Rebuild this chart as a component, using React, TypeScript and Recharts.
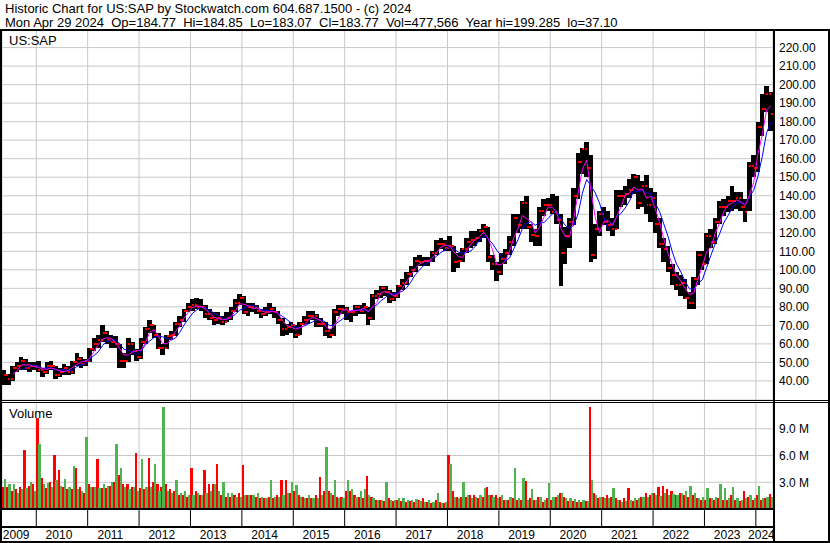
import React, { useMemo } from 'react';
import { ComposedChart, Bar, Line, XAxis, YAxis, CartesianGrid } from 'recharts';

// monthly bars, May 2009 .. Apr 2024
const START_MONTH = 4; // May (0-based)
const YEARS = ['2009', '2010', '2011', '2012', '2013', '2014', '2015', '2016', '2017', '2018', '2019', '2020', '2021', '2022', '2023', '2024'];

const HI = [
    46, 44, 48, 50, 53, 52, 50, 50,
    51, 47, 50, 51, 48, 47, 49, 48, 51, 55, 53, 52,
    58, 63, 65, 70, 67, 65, 64, 60, 55, 63, 61, 57,
    63, 69, 73, 70, 66, 60, 65, 67, 72, 75, 79, 82,
    84, 85, 84, 81, 79, 77, 77, 75, 77, 80, 84, 87,
    86, 82, 82, 81, 79, 80, 82, 80, 78, 74, 71, 72,
    70, 72, 75, 78, 78, 76, 74, 72, 68, 79, 81, 81,
    80, 78, 81, 81, 82, 80, 87, 89, 91, 91, 89, 88,
    92, 95, 99, 102, 107, 108, 107, 107, 110, 116, 117, 116,
    118, 113, 109, 112, 117, 121, 121, 122, 125, 123, 108, 104,
    109, 111, 118, 130, 130, 137, 140, 125, 122, 134, 138, 139,
    141, 140, 130, 123, 128, 144, 163, 166, 169, 162, 125, 132,
    134, 132, 128, 143, 143, 145, 149, 152, 151, 148, 151, 144,
    142, 128, 117, 113, 103, 99, 97, 95, 88, 96, 110, 110,
    120, 122, 128, 137, 138, 140, 145, 142, 142, 138, 158, 162,
    180, 195, 199, 196,
];

const LO = [
    38, 38, 40, 45, 46, 46, 45, 46,
    45, 42, 44, 46, 41, 42, 43, 43, 44, 48, 47, 48,
    50, 56, 58, 61, 60, 58, 58, 47, 47, 50, 54, 51,
    52, 60, 66, 63, 57, 54, 57, 62, 64, 69, 72, 77,
    78, 79, 78, 74, 73, 70, 71, 70, 72, 73, 77, 81,
    76, 75, 77, 76, 74, 75, 76, 74, 71, 64, 65, 66,
    63, 65, 70, 71, 73, 69, 69, 64, 63, 64, 75, 76,
    73, 72, 75, 76, 76, 70, 73, 84, 85, 86, 82, 83,
    85, 89, 92, 96, 99, 102, 102, 102, 104, 108, 111, 110,
    110, 99, 101, 104, 109, 112, 113, 115, 117, 104, 100, 94,
    97, 103, 108, 113, 120, 122, 122, 115, 113, 113, 129, 132,
    130, 125, 91, 103, 112, 124, 138, 152, 150, 104, 106, 118,
    124, 121, 118, 122, 134, 135, 139, 141, 133, 134, 130, 126,
    120, 112, 104, 99, 92, 89, 86, 84, 79, 79, 92, 100,
    103, 112, 114, 125, 129, 131, 132, 133, 132, 126, 132, 150,
    153, 172, 185, 175,
];

const CLOSE = [
    43, 41, 47, 48, 51, 47, 48, 48,
    46, 45, 48, 48, 43, 45, 47, 45, 50, 52, 49, 51,
    57, 60, 62, 66, 62, 61, 60, 51, 51, 60, 56, 53,
    61, 68, 70, 65, 58, 58, 64, 65, 71, 73, 78, 80,
    81, 80, 80, 76, 74, 73, 74, 72, 74, 78, 82, 85,
    77, 80, 80, 78, 76, 77, 79, 77, 73, 68, 69, 70,
    65, 71, 73, 75, 75, 71, 71, 67, 65, 77, 79, 79,
    77, 77, 80, 78, 80, 74, 86, 87, 90, 88, 84, 86,
    91, 93, 98, 100, 105, 104, 105, 105, 109, 114, 114, 112,
    113, 104, 105, 111, 115, 116, 117, 121, 123, 107, 103, 99,
    106, 109, 115, 128, 124, 136, 123, 119, 118, 132, 135, 135,
    131, 127, 109, 118, 126, 140, 158, 165, 155, 108, 122, 130,
    126, 124, 122, 140, 140, 141, 143, 150, 136, 145, 135, 139,
    125, 114, 111, 101, 97, 92, 93, 85, 82, 95, 108, 103,
    118, 115, 126, 134, 134, 137, 137, 139, 134, 131, 156, 155,
    177, 187, 195, 184,
];

// volume in millions, down-day and up-day bars per month
const VOL_DOWN = [
    2.5, 2.5, 2.0, 2.2, 2.5, 6.6, 2.6, 2.8,
    10.2, 3.5, 2.4, 3.0, 6.1, 4.4, 2.5, 2.2, 2.2, 4.6, 2.5, 1.8,
    2.8, 2.5, 5.6, 2.4, 2.4, 2.6, 3.0, 3.8, 2.8, 2.8, 2.5, 6.3,
    2.4, 2.2, 5.7, 3.0, 2.8, 2.5, 2.8, 2.2, 2.0, 1.6, 1.6, 1.4,
    4.6, 2.0, 1.6, 4.4, 2.8, 2.8, 5.0, 1.6, 1.4, 1.4, 1.6, 1.8,
    4.9, 1.6, 1.6, 1.4, 1.2, 1.2, 1.4, 1.2, 1.6, 3.3, 3.3, 1.8,
    2.0, 1.6, 1.4, 1.2, 1.2, 1.6, 3.6, 2.0, 2.0, 1.6, 1.4, 1.4,
    2.0, 2.0, 1.6, 1.4, 1.2, 3.7, 1.4, 1.0, 1.0, 0.9, 1.2, 0.9,
    1.0, 0.9, 0.8, 0.9, 0.8, 1.0, 1.2, 0.8, 0.7, 1.0, 0.8, 0.7,
    6.1, 2.0, 1.4, 1.4, 1.4, 1.6, 1.6, 1.2, 1.4, 2.5, 1.6, 1.6,
    1.4, 1.0, 1.0, 1.2, 1.0, 1.0, 3.1, 1.2, 1.0, 1.4, 0.8, 1.2,
    1.0, 1.4, 1.8, 1.4, 0.9, 0.9, 0.8, 0.8, 0.9, 11.4, 1.8, 1.2,
    1.4, 1.6, 1.4, 1.2, 1.0, 1.2, 2.4, 0.9, 1.0, 1.3, 1.8, 1.6,
    1.8, 2.5, 2.6, 2.2, 2.0, 1.6, 1.8, 1.6, 1.4, 1.6, 1.2, 1.0,
    1.0, 1.2, 1.0, 1.2, 1.0, 1.0, 1.6, 1.0, 0.9, 2.0, 1.4, 1.0,
    1.6, 1.0, 1.2, 1.7,
];

const VOL_UP = [
    3.4, 2.8, 2.8, 1.8, 2.2, 2.4, 3.0, 2.0,
    7.3, 2.8, 2.9, 2.5, 3.2, 2.6, 3.4, 2.5, 4.8, 2.2, 2.0, 8.1,
    2.5, 2.5, 2.4, 2.8, 2.6, 3.0, 7.3, 4.6, 2.5, 2.2, 2.5, 2.0,
    5.6, 2.5, 2.5, 5.1, 2.0, 11.4, 2.0, 1.8, 3.2, 1.8, 2.0, 1.6,
    1.6, 1.8, 1.6, 1.8, 2.0, 2.8, 2.0, 3.0, 1.8, 1.8, 1.4, 1.4,
    1.6, 1.6, 1.6, 1.8, 1.4, 1.2, 3.2, 1.4, 1.4, 1.6, 1.8, 3.0,
    2.7, 1.4, 1.2, 1.6, 1.2, 1.2, 1.6, 7.0, 1.8, 3.3, 1.2, 1.2,
    3.3, 2.2, 1.4, 2.0, 2.2, 1.6, 1.2, 1.0, 1.0, 3.0, 1.0, 1.0,
    1.2, 1.2, 1.0, 1.0, 1.1, 0.9, 0.8, 1.0, 0.8, 1.8, 0.7, 0.8,
    5.0, 1.4, 1.2, 3.0, 1.6, 1.2, 1.4, 1.6, 2.4, 1.6, 1.4, 1.2,
    1.6, 1.0, 1.4, 4.6, 1.2, 3.5, 1.0, 2.2, 1.0, 1.4, 1.0, 2.9,
    1.4, 1.6, 1.8, 1.2, 1.2, 1.1, 1.0, 1.0, 0.9, 3.2, 1.6, 1.4,
    1.2, 1.2, 2.3, 1.0, 0.8, 0.9, 1.0, 1.2, 1.2, 1.4, 1.4, 1.8,
    1.6, 1.5, 1.8, 1.6, 1.7, 1.6, 1.8, 2.0, 2.6, 1.8, 1.2, 1.4,
    2.3, 1.2, 1.4, 2.8, 2.4, 1.2, 2.5, 1.2, 1.0, 1.2, 1.6, 1.2,
    2.6, 1.2, 1.4, 1.4,
];

const PRICE_TICKS = [40, 50, 60, 70, 80, 90, 100, 110, 120, 130, 140, 150, 160, 170, 180, 190, 200, 210, 220];
const VOL_TICKS = [3, 6, 9];

const TITLE = 'Historic Chart for US:SAP by Stockwatch.com 604.687.1500 - (c) 2024';
const QUOTE = 'Mon Apr 29 2024  Op=184.77  Hi=184.85  Lo=183.07  Cl=183.77  Vol=477,566  Year hi=199.285  lo=37.10';

const N = HI.length;
const FIRST_JAN = 12 - START_MONTH;

const sma = (arr: number[], i: number, n: number) => {
    if (i < n - 1) return null;
    let s = 0;
    for (let k = i - n + 1; k <= i; k++) s += arr[k];
    return s / n;
};

// black high/low bar with red open & close marks
const PriceBar = (props: any) => {
    const { x, y, width, height, payload } = props;
    if (x == null || y == null || !height) return null;
    const top = Math.min(y, y + height);
    const h = Math.abs(height);
    const span = payload.hi - payload.lo || 1;
    const yc = top + ((payload.hi - payload.close) / span) * h;
    const open = payload.open;
    const yo = open != null && open <= payload.hi && open >= payload.lo ? top + ((payload.hi - open) / span) * h : null;
    return (
        <g shapeRendering="crispEdges">
            <rect x={x - 0.3} y={top} width={width + 0.6} height={h} fill="#000" />
            {yo != null && <rect x={x} y={yo - 1} width={width / 2} height={2} fill="#ff0000" />}
            <rect x={x + width / 2} y={yc - 1} width={width / 2} height={2} fill="#ff0000" />
        </g>
    );
};

const VolBar = (props: any) => {
    const { x, y, width, height, fill } = props;
    if (x == null || y == null || !height) return null;
    return <rect x={x} y={Math.min(y, y + height)} width={width + 0.3} height={Math.abs(height)} fill={fill} shapeRendering="crispEdges" />;
};

const App: React.FC = () => {
    const rows = useMemo(() => HI.map((h, i) => ({
        t: i + 0.5,
        range: [LO[i], h],
        hi: h,
        lo: LO[i],
        close: CLOSE[i],
        open: i > 0 ? CLOSE[i - 1] : null,
        fast: sma(CLOSE, i, 3),
        slow: sma(CLOSE, i, 5),
        dn: VOL_DOWN[i],
        up: VOL_UP[i],
    })), []);

    const yearStarts = YEARS.slice(1).map((_, k) => FIRST_JAN + 12 * k);
    const labelTicks = YEARS.map((_, k) => {
        const s = k === 0 ? 0 : FIRST_JAN + 12 * (k - 1);
        const e = Math.min(N, FIRST_JAN + 12 * k);
        return (s + e) / 2 - 0.7;
    });
    const yearOf = (v: number) => {
        const k = labelTicks.findIndex(t => Math.abs(t - v) < 0.01);
        return k >= 0 ? YEARS[k] : '';
    };

    const line = (style: React.CSSProperties) => <div style={{ position: 'absolute', background: '#000', ...style }} />;

    return (
        <div style={{ position: 'absolute', left: 0, top: 0, width: 830, height: 543, background: '#fff', overflow: 'hidden', fontFamily: '"Liberation Sans", Arial, sans-serif', color: '#000' }}>
            <div style={{ position: 'absolute', left: 5, top: 2, fontSize: 13, lineHeight: '14px', whiteSpace: 'pre' }}>
                {TITLE}<br />{QUOTE}
            </div>

            {/* price panel */}
            <div style={{ position: 'absolute', left: 0, top: 30 }}>
                <ComposedChart width={830} height={370} data={rows} margin={{ top: 0, right: 0, bottom: 0, left: 2 }} barCategoryGap={0} barGap={0}>
                    <CartesianGrid stroke="#c8c8c8" />
                    <XAxis dataKey="t" type="number" domain={[0, N]} ticks={yearStarts} interval={0} hide allowDataOverflow />
                    <YAxis orientation="right" width={57} domain={[29.7, 229.5]} ticks={PRICE_TICKS} interval={0} allowDataOverflow
                        axisLine={false} tickLine={false} tickSize={6} tickMargin={0}
                        tick={{ fill: '#000', fontSize: 12 }} tickFormatter={(v: number) => v.toFixed(2)} />
                    <Bar dataKey="range" shape={<PriceBar />} isAnimationActive={false} />
                    <Line dataKey="slow" stroke="#0000ff" strokeWidth={1} dot={false} isAnimationActive={false} />
                    <Line dataKey="fast" stroke="#ff00ff" strokeWidth={1} dot={false} isAnimationActive={false} />
                </ComposedChart>
            </div>

            {/* volume panel + year axis */}
            <div style={{ position: 'absolute', left: 0, top: 402 }}>
                <ComposedChart width={830} height={141} data={rows} margin={{ top: 0, right: 0, bottom: 0, left: 2 }} barCategoryGap={0} barGap={0}>
                    <CartesianGrid stroke="#c8c8c8" />
                    <XAxis dataKey="t" type="number" domain={[0, N]} ticks={yearStarts} interval={0} allowDataOverflow height={18}
                        tickFormatter={() => ''} tickSize={17} tickLine={{ stroke: '#000' }} axisLine={{ stroke: '#000', strokeWidth: 2 }} />
                    <XAxis xAxisId="lbl" dataKey="t" type="number" domain={[0, N]} ticks={labelTicks} interval={0} allowDataOverflow height={16}
                        tickLine={false} tickSize={0} tickMargin={3} axisLine={{ stroke: '#000', strokeWidth: 2 }}
                        tick={{ fill: '#000', fontSize: 12 }} tickFormatter={yearOf} />
                    <YAxis orientation="right" width={57} domain={[0, 12]} ticks={VOL_TICKS} interval={0} allowDataOverflow
                        axisLine={false} tickLine={false} tickSize={6} tickMargin={0}
                        tick={{ fill: '#000', fontSize: 12 }} tickFormatter={(v: number) => v.toFixed(1) + ' M'} />
                    <Bar dataKey="dn" fill="#ff0000" shape={<VolBar />} isAnimationActive={false} />
                    <Bar dataKey="up" fill="#4fb44f" shape={<VolBar />} isAnimationActive={false} />
                </ComposedChart>
            </div>

            <div style={{ position: 'absolute', left: 9, top: 34, fontSize: 13, lineHeight: '14px' }}>US:SAP</div>
            <div style={{ position: 'absolute', left: 9, top: 407, fontSize: 13, lineHeight: '14px' }}>Volume</div>

            {line({ left: 0, top: 29, width: 830, height: 2 })}
            {line({ left: 0, top: 400, width: 830, height: 1 })}
            {line({ left: 0, top: 402, width: 830, height: 1 })}
            {line({ left: 0, top: 541, width: 830, height: 2 })}
            {line({ left: 0, top: 29, width: 2, height: 514 })}
            {line({ left: 773, top: 29, width: 2, height: 514 })}
            {line({ left: 828, top: 29, width: 2, height: 514 })}
        </div>
    );
};

export default App;
